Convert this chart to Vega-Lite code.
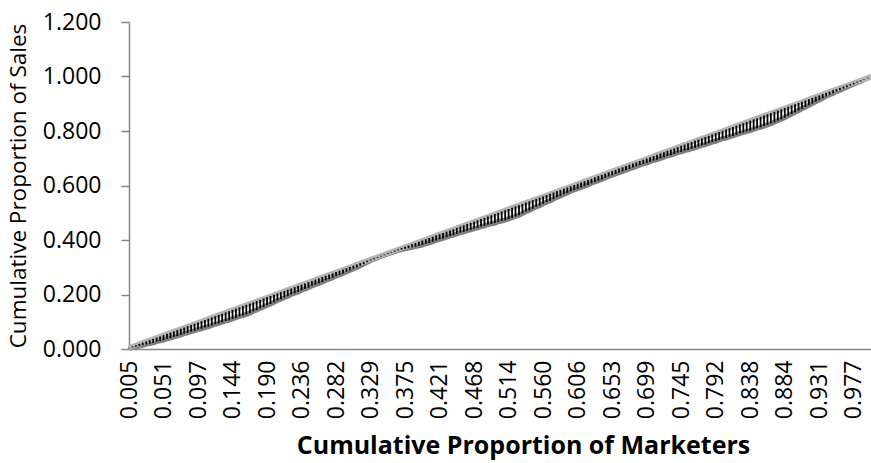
{
  "$schema": "https://vega.github.io/schema/vega-lite/v6.json",
  "autosize": "none",
  "width": 742,
  "height": 327,
  "padding": {"left": 129, "top": 22, "right": 0, "bottom": 114},
  "background": "white",
  "config": {
    "font": "Open Sans",
    "view": {"stroke": null},
    "axis": {"grid": false, "domainColor": "#868686", "domainWidth": 1.5, "labelColor": "#000000", "titleColor": "#000000", "labelFont": "Open Sans", "titleFont": "Open Sans"}
  },
  "data": {"name": "d", "values": [
{"x":0.0046,"s":0.0028},{"x":0.0093,"s":0.0056},{"x":0.0139,"s":0.0084},{"x":0.0185,"s":0.0112},{"x":0.0231,"s":0.0139},{"x":0.0278,"s":0.0168},{"x":0.0324,"s":0.0196},{"x":0.0370,"s":0.0223},{"x":0.0417,"s":0.0270},{"x":0.0463,"s":0.0298},
{"x":0.0509,"s":0.0326},{"x":0.0556,"s":0.0373},{"x":0.0602,"s":0.0400},{"x":0.0648,"s":0.0446},{"x":0.0694,"s":0.0474},{"x":0.0741,"s":0.0521},{"x":0.0787,"s":0.0567},{"x":0.0833,"s":0.0594},{"x":0.0880,"s":0.0641},{"x":0.0926,"s":0.0669},
{"x":0.0972,"s":0.0715},{"x":0.1019,"s":0.0744},{"x":0.1065,"s":0.0790},{"x":0.1111,"s":0.0817},{"x":0.1157,"s":0.0863},{"x":0.1204,"s":0.0910},{"x":0.1250,"s":0.0938},{"x":0.1296,"s":0.0984},{"x":0.1343,"s":0.1031},{"x":0.1389,"s":0.1059},
{"x":0.1435,"s":0.1105},{"x":0.1481,"s":0.1151},{"x":0.1528,"s":0.1198},{"x":0.1574,"s":0.1225},{"x":0.1620,"s":0.1271},{"x":0.1667,"s":0.1318},{"x":0.1713,"s":0.1383},{"x":0.1759,"s":0.1429},{"x":0.1806,"s":0.1494},{"x":0.1852,"s":0.1540},
{"x":0.1898,"s":0.1604},{"x":0.1944,"s":0.1650},{"x":0.1991,"s":0.1716},{"x":0.2037,"s":0.1780},{"x":0.2083,"s":0.1826},{"x":0.2130,"s":0.1891},{"x":0.2176,"s":0.1937},{"x":0.2222,"s":0.2002},{"x":0.2269,"s":0.2049},{"x":0.2315,"s":0.2095},
{"x":0.2361,"s":0.2159},{"x":0.2407,"s":0.2205},{"x":0.2454,"s":0.2252},{"x":0.2500,"s":0.2317},{"x":0.2546,"s":0.2363},{"x":0.2593,"s":0.2410},{"x":0.2639,"s":0.2456},{"x":0.2685,"s":0.2520},{"x":0.2731,"s":0.2566},{"x":0.2778,"s":0.2613},
{"x":0.2824,"s":0.2677},{"x":0.2870,"s":0.2723},{"x":0.2917,"s":0.2770},{"x":0.2963,"s":0.2835},{"x":0.3009,"s":0.2881},{"x":0.3056,"s":0.2946},{"x":0.3102,"s":0.2992},{"x":0.3148,"s":0.3056},{"x":0.3194,"s":0.3121},{"x":0.3241,"s":0.3186},
{"x":0.3287,"s":0.3250},{"x":0.3333,"s":0.3296},{"x":0.3380,"s":0.3351},{"x":0.3426,"s":0.3397},{"x":0.3472,"s":0.3443},{"x":0.3519,"s":0.3490},{"x":0.3565,"s":0.3536},{"x":0.3611,"s":0.3574},{"x":0.3657,"s":0.3620},{"x":0.3704,"s":0.3649},
{"x":0.3750,"s":0.3677},{"x":0.3796,"s":0.3704},{"x":0.3843,"s":0.3733},{"x":0.3889,"s":0.3761},{"x":0.3935,"s":0.3788},{"x":0.3981,"s":0.3816},{"x":0.4028,"s":0.3863},{"x":0.4074,"s":0.3891},{"x":0.4120,"s":0.3937},{"x":0.4167,"s":0.3984},
{"x":0.4213,"s":0.4030},{"x":0.4259,"s":0.4057},{"x":0.4306,"s":0.4104},{"x":0.4352,"s":0.4150},{"x":0.4398,"s":0.4178},{"x":0.4444,"s":0.4224},{"x":0.4491,"s":0.4271},{"x":0.4537,"s":0.4298},{"x":0.4583,"s":0.4344},{"x":0.4630,"s":0.4373},
{"x":0.4676,"s":0.4419},{"x":0.4722,"s":0.4447},{"x":0.4769,"s":0.4494},{"x":0.4815,"s":0.4521},{"x":0.4861,"s":0.4567},{"x":0.4907,"s":0.4595},{"x":0.4954,"s":0.4624},{"x":0.5000,"s":0.4670},{"x":0.5046,"s":0.4697},{"x":0.5093,"s":0.4726},
{"x":0.5139,"s":0.4772},{"x":0.5185,"s":0.4818},{"x":0.5231,"s":0.4864},{"x":0.5278,"s":0.4911},{"x":0.5324,"s":0.4975},{"x":0.5370,"s":0.5040},{"x":0.5417,"s":0.5087},{"x":0.5463,"s":0.5151},{"x":0.5509,"s":0.5215},{"x":0.5556,"s":0.5262},
{"x":0.5602,"s":0.5327},{"x":0.5648,"s":0.5391},{"x":0.5694,"s":0.5437},{"x":0.5741,"s":0.5502},{"x":0.5787,"s":0.5567},{"x":0.5833,"s":0.5613},{"x":0.5880,"s":0.5678},{"x":0.5926,"s":0.5724},{"x":0.5972,"s":0.5789},{"x":0.6019,"s":0.5836},
{"x":0.6065,"s":0.5882},{"x":0.6111,"s":0.5928},{"x":0.6157,"s":0.5974},{"x":0.6204,"s":0.6021},{"x":0.6250,"s":0.6085},{"x":0.6296,"s":0.6131},{"x":0.6343,"s":0.6178},{"x":0.6389,"s":0.6224},{"x":0.6435,"s":0.6288},{"x":0.6481,"s":0.6334},
{"x":0.6528,"s":0.6381},{"x":0.6574,"s":0.6427},{"x":0.6620,"s":0.6473},{"x":0.6667,"s":0.6520},{"x":0.6713,"s":0.6566},{"x":0.6759,"s":0.6612},{"x":0.6806,"s":0.6659},{"x":0.6852,"s":0.6705},{"x":0.6898,"s":0.6751},{"x":0.6944,"s":0.6797},
{"x":0.6991,"s":0.6826},{"x":0.7037,"s":0.6872},{"x":0.7083,"s":0.6918},{"x":0.7130,"s":0.6947},{"x":0.7176,"s":0.6993},{"x":0.7222,"s":0.7039},{"x":0.7269,"s":0.7086},{"x":0.7315,"s":0.7113},{"x":0.7361,"s":0.7159},{"x":0.7407,"s":0.7205},
{"x":0.7454,"s":0.7234},{"x":0.7500,"s":0.7280},{"x":0.7546,"s":0.7307},{"x":0.7593,"s":0.7354},{"x":0.7639,"s":0.7382},{"x":0.7685,"s":0.7428},{"x":0.7731,"s":0.7474},{"x":0.7778,"s":0.7503},{"x":0.7824,"s":0.7549},{"x":0.7870,"s":0.7595},
{"x":0.7917,"s":0.7623},{"x":0.7963,"s":0.7669},{"x":0.8009,"s":0.7715},{"x":0.8056,"s":0.7744},{"x":0.8102,"s":0.7790},{"x":0.8148,"s":0.7818},{"x":0.8194,"s":0.7864},{"x":0.8241,"s":0.7911},{"x":0.8287,"s":0.7938},{"x":0.8333,"s":0.7984},
{"x":0.8380,"s":0.8013},{"x":0.8426,"s":0.8059},{"x":0.8472,"s":0.8105},{"x":0.8519,"s":0.8134},{"x":0.8565,"s":0.8180},{"x":0.8611,"s":0.8226},{"x":0.8657,"s":0.8272},{"x":0.8704,"s":0.8319},{"x":0.8750,"s":0.8383},{"x":0.8796,"s":0.8429},
{"x":0.8843,"s":0.8494},{"x":0.8889,"s":0.8559},{"x":0.8935,"s":0.8623},{"x":0.8981,"s":0.8687},{"x":0.9028,"s":0.8753},{"x":0.9074,"s":0.8817},{"x":0.9120,"s":0.8881},{"x":0.9167,"s":0.8947},{"x":0.9213,"s":0.9011},{"x":0.9259,"s":0.9076},
{"x":0.9306,"s":0.9141},{"x":0.9352,"s":0.9205},{"x":0.9398,"s":0.9270},{"x":0.9444,"s":0.9334},{"x":0.9491,"s":0.9381},{"x":0.9537,"s":0.9445},{"x":0.9583,"s":0.9491},{"x":0.9630,"s":0.9557},{"x":0.9676,"s":0.9603},{"x":0.9722,"s":0.9667},
{"x":0.9769,"s":0.9714},{"x":0.9815,"s":0.9778},{"x":0.9861,"s":0.9824},{"x":0.9907,"s":0.9889},{"x":0.9954,"s":0.9936},{"x":1.0000,"s":1.0000}
  ]},
  "encoding": {
    "x": {
      "field": "x", "type": "quantitative",
      "scale": {"domain": [0.00463, 1], "nice": false, "zero": false},
      "axis": {
        "values": [0.00463, 0.05093, 0.09722, 0.14352, 0.18981, 0.23611, 0.28241, 0.3287, 0.375, 0.4213, 0.46759, 0.51389, 0.56019, 0.60648, 0.65278, 0.69907, 0.74537, 0.79167, 0.83796, 0.88426, 0.93056, 0.97685],
        "format": ".3f", "labelAngle": -90, "labelFontSize": 23, "labelPadding": 11,
        "ticks": false, "labelFlush": false, "labelOverlap": false,
        "title": "Cumulative Proportion of Marketers", "titleFontSize": 25, "titleFontWeight": "bold",
        "titleX": 394, "titleY": 104, "titleBaseline": "alphabetic", "titleAlign": "center"
      }
    }
  },
  "layer": [
    {
      "mark": {"type": "line", "stroke": "#7F7F7F", "strokeWidth": 5},
      "encoding": {
        "y": {"field": "s", "type": "quantitative", "scale": {"domain": [0, 1.2], "nice": false},
          "title": "Cumulative Proportion of Sales",
          "axis": {"values": [0, 0.2, 0.4, 0.6, 0.8, 1.0, 1.2], "format": ".3f", "labelFontSize": 23, "tickSize": 8, "tickColor": "#868686", "tickWidth": 1.5, "labelPadding": 20, "titleFontSize": 22.5, "titleFontWeight": "normal", "titlePadding": 12}}
      }
    },
    {
      "mark": {"type": "line", "stroke": "#B4B4B4", "strokeWidth": 5},
      "encoding": {
        "y": {"field": "x", "type": "quantitative", "title": "Cumulative Proportion of Sales"}
      }
    },
    {
      "mark": {"type": "rule", "stroke": "#000000", "strokeWidth": 1.8},
      "encoding": {
        "y": {"field": "x", "type": "quantitative", "title": "Cumulative Proportion of Sales"},
        "y2": {"field": "s"}
      }
    }
  ]
}
